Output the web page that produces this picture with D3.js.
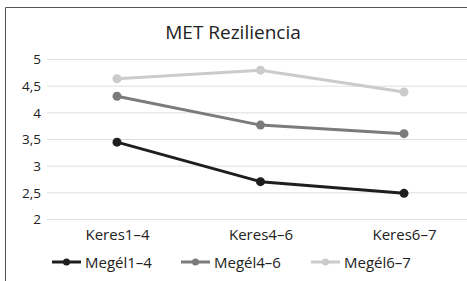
<!DOCTYPE html>
<html><head><meta charset="utf-8">
<script src="https://cdn.jsdelivr.net/npm/d3@7"></script>
<style>body{margin:0;background:#fff}svg{display:block}text{font-family:"Open Sans",sans-serif;fill:#222}</style>
</head><body><svg id="c" width="467" height="281"></svg>
<script>
const categories = ["Keres1–4", "Keres4–6", "Keres6–7"];
const seriesNames = ["Megél1–4", "Megél4–6", "Megél6–7"];
const megel14 = [3.45, 2.71, 2.49];
const megel46 = [4.31, 3.77, 3.61];
const megel67 = [4.64, 4.80, 4.39];
const yTicks = [2, 2.5, 3, 3.5, 4, 4.5, 5];
const colors = ["#1e1e1e", "#7b7b7b", "#cbcbcb"];

const series = [megel14, megel46, megel67];
const svg = d3.select("#c");

// frame
svg.append("path").attr("d", "M5.5,281 V7.5 H467").attr("fill", "none").attr("stroke", "#555").attr("stroke-width", 1);

const x = d3.scalePoint().domain(categories).range([117, 404]);
const y = d3.scaleLinear().domain([2, 5]).range([219.5, 59.5]);

// gridlines
svg.append("g").selectAll("line").data(yTicks).join("line")
  .attr("x1", 47).attr("x2", 467).attr("y1", d => y(d)).attr("y2", d => y(d))
  .attr("stroke", "#dedede").attr("stroke-width", 1);

const fmt = d => String(d).replace(".", ",");
const yAxis = d3.axisLeft(y).tickValues(yTicks).tickFormat(fmt).tickSize(0).tickPadding(0);
const ya = svg.append("g").attr("transform", "translate(41,0)").call(yAxis);
ya.select(".domain").remove();
ya.selectAll("text").style("font-family", '"Open Sans",sans-serif').style("font-size", "13.5px").attr("fill", "#222");

const xAxis = d3.axisBottom(x).tickSize(0).tickPadding(0);
const xa = svg.append("g").attr("transform", "translate(0,229)").call(xAxis);
xa.select(".domain").remove();
xa.selectAll("text").style("font-family", '"Open Sans",sans-serif').style("font-size", "15px").attr("fill", "#222");

// title
svg.append("text").attr("x", 233).attr("y", 39).attr("text-anchor", "middle")
  .style("font-size", "19px").text("MET Reziliencia");

const line = d3.line().x((d, i) => x(categories[i])).y(d => y(d));
[2, 1, 0].forEach(si => {
  const g = svg.append("g");
  g.append("path").datum(series[si]).attr("d", line).attr("fill", "none")
    .attr("stroke", colors[si]).attr("stroke-width", 3).attr("stroke-linejoin", "round");
  g.selectAll("circle").data(series[si]).join("circle")
    .attr("cx", (d, i) => x(categories[i])).attr("cy", d => y(d)).attr("r", 4.5).attr("fill", colors[si]);
});

// legend
const legX = [52, 181, 311];
const legY = 262;
seriesNames.forEach((n, i) => {
  const g = svg.append("g").attr("transform", `translate(${legX[i]},${legY})`);
  g.append("line").attr("x1", 0).attr("x2", 29).attr("y1", 0).attr("y2", 0).attr("stroke", colors[i]).attr("stroke-width", 3);
  g.append("circle").attr("cx", 14.5).attr("cy", 0).attr("r", 3.5).attr("fill", colors[i]);
  g.append("text").attr("x", 33).attr("y", 5.5).style("font-size", "15px").text(n);
});
</script></body></html>
